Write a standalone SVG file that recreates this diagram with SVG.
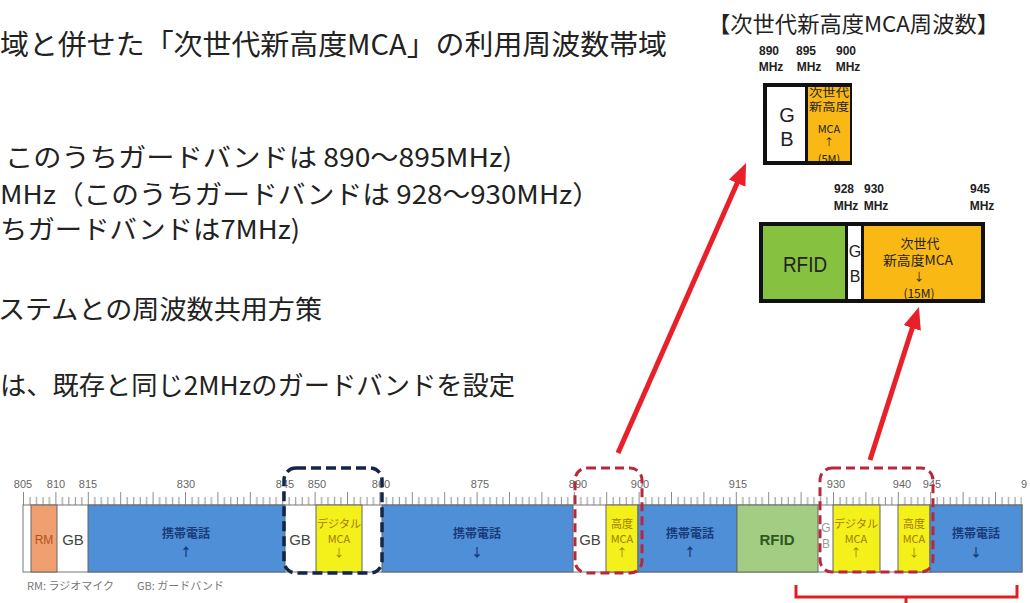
<svg xmlns="http://www.w3.org/2000/svg" width="1030" height="603" viewBox="0 0 1030 603">
<style>
.jp{font-family:"Noto Sans CJK JP","Noto Sans",sans-serif}
.body{font-size:26px;fill:#222}
.sm{font-family:"Liberation Sans","Noto Sans CJK JP",sans-serif}
.ruler{font-size:11px;fill:#666;text-anchor:middle}
.seg{stroke:#666;stroke-width:1}
.blue{fill:#4F8FD8}
.yel{fill:#F4F01A}
.wht{fill:#fff}
.bt{font-size:12px;fill:#1A3B78;text-anchor:middle;font-weight:bold}
.yt{font-size:11px;fill:#A07C00;text-anchor:middle}
.gb{font-size:15px;fill:#444;text-anchor:middle}
.fq{font-size:12px;font-weight:bold;fill:#222;text-anchor:middle}
.ot{font-size:11px;fill:#222;text-anchor:middle}
.red{fill:none;stroke:#B8283C;stroke-width:3;stroke-dasharray:9 5}
.arrow{fill:none;stroke:#E8202A;stroke-width:5}
</style>
<defs>
<pattern id="ticks" patternUnits="userSpaceOnUse" x="23" y="491" width="32.4" height="14">
<path d="M0.5,1V14M7,6V14M13.5,6V14M20,6V14M26.4,6V14" stroke="#8a8a8a" stroke-width="1" fill="none"/>
</pattern>
<marker id="ah" markerUnits="userSpaceOnUse" markerWidth="24" markerHeight="20" refX="10" refY="9" orient="auto">
<path d="M0,0L22,9L0,18Z" fill="#E8202A"/>
</marker>
<clipPath id="c1"><rect x="808" y="87" width="42" height="74"/></clipPath>
</defs>
<rect width="1030" height="603" fill="#fff"/>

<g id="text-block" class="jp body">
<text x="0" y="55" font-size="28" textLength="667" lengthAdjust="spacingAndGlyphs">域と併せた「次世代新高度MCA」の利用周波数帯域</text>
<text x="5" y="167" textLength="507" lengthAdjust="spacingAndGlyphs">このうちガードバンドは 890〜895MHz)</text>
<text x="0" y="204" textLength="600" lengthAdjust="spacingAndGlyphs">MHz（このうちガードバンドは 928〜930MHz）</text>
<text x="0" y="239" textLength="300" lengthAdjust="spacingAndGlyphs">ちガードバンドは7MHz)</text>
<text x="-2" y="319" textLength="324" lengthAdjust="spacingAndGlyphs">ステムとの周波数共用方策</text>
<text x="0" y="395" textLength="515" lengthAdjust="spacingAndGlyphs">は、既存と同じ2MHzのガードバンドを設定</text>
</g>

<g id="title-right">
<text class="jp" x="708" y="32" font-size="22" fill="#222" textLength="291" lengthAdjust="spacingAndGlyphs">【次世代新高度MCA周波数】</text>
</g>

<g id="box-upper">
<g class="sm fq">
<text x="769" y="55">890</text><text x="771" y="71">MHz</text>
<text x="806" y="55">895</text><text x="809" y="71">MHz</text>
<text x="846" y="55">900</text><text x="848" y="71">MHz</text>
</g>
<rect x="765" y="85" width="85" height="78" fill="#fff" stroke="#111" stroke-width="4"/>
<rect x="808" y="87" width="42" height="74" fill="#F9B814"/>
<line x1="806.5" y1="85" x2="806.5" y2="163" stroke="#111" stroke-width="3"/>
<text class="sm" x="787" y="122" font-size="20" fill="#222" text-anchor="middle">G</text>
<text class="sm" x="787" y="146" font-size="20" fill="#222" text-anchor="middle">B</text>
<g clip-path="url(#c1)" class="jp ot">
<text x="829" y="97" textLength="40" lengthAdjust="spacingAndGlyphs">次世代</text>
<text x="829" y="111" textLength="40" lengthAdjust="spacingAndGlyphs">新高度</text>
<text x="829" y="133">MCA</text>
<text x="829" y="146" font-size="10">↑</text>
<text x="829" y="163">(5M)</text>
</g>
</g>

<g id="box-lower">
<g class="sm fq">
<text x="844" y="193">928</text><text x="846" y="210">MHz</text>
<text x="874" y="193">930</text><text x="876" y="210">MHz</text>
<text x="980" y="193">945</text><text x="982" y="210">MHz</text>
</g>
<rect x="761" y="224" width="222" height="77" fill="#fff" stroke="#111" stroke-width="4"/>
<rect x="763" y="226" width="82" height="73" fill="#86C13F"/>
<rect x="863" y="226" width="118" height="73" fill="#F9B814"/>
<line x1="846.5" y1="224" x2="846.5" y2="301" stroke="#111" stroke-width="3"/>
<line x1="862.5" y1="224" x2="862.5" y2="301" stroke="#111" stroke-width="3"/>
<text class="sm" x="805" y="272" font-size="22" fill="#222" text-anchor="middle" textLength="44" lengthAdjust="spacingAndGlyphs">RFID</text>
<text class="sm" x="855" y="257" font-size="16" fill="#222" text-anchor="middle">G</text>
<text class="sm" x="855" y="282" font-size="16" fill="#222" text-anchor="middle">B</text>
<g class="jp" font-size="13" fill="#222" text-anchor="middle">
<text x="920" y="248">次世代</text>
<text x="918" y="265" textLength="70" lengthAdjust="spacingAndGlyphs">新高度MCA</text>
<text x="919" y="281" font-size="11">↓</text>
<text x="919" y="298" font-size="12">(15M)</text>
</g>
</g>

<g id="ruler">
<rect x="23" y="491" width="999" height="14" fill="url(#ticks)"/>
<g class="sm ruler">
<text x="23" y="488">805</text><text x="56" y="488">810</text><text x="88" y="488">815</text>
<text x="186" y="488">830</text><text x="285" y="488">845</text><text x="317" y="488">850</text>
<text x="381" y="488">860</text><text x="480" y="488">875</text><text x="578" y="488">890</text>
<text x="640" y="488">900</text><text x="738" y="488">915</text><text x="836" y="488">930</text>
<text x="902" y="488">940</text><text x="932" y="488">945</text><text x="1024" y="488">9</text>
</g>
</g>

<g id="band-bar">
<rect x="23" y="505" width="999" height="67" fill="#fff" stroke="#777" stroke-width="1"/>
<rect class="seg" x="31" y="505" width="26" height="67" fill="#F0A070" stroke="#8a5a3a"/>
<rect class="seg blue" x="88" y="505" width="197" height="67"/>
<rect class="seg yel" x="316" y="505" width="46" height="67"/>
<rect class="seg blue" x="382" y="505" width="191" height="67"/>
<rect class="seg yel" x="606" y="505" width="32" height="67"/>
<rect class="seg blue" x="638" y="505" width="99" height="67"/>
<rect class="seg" x="737" y="505" width="81" height="67" fill="#A3CD82"/>
<rect class="seg yel" x="833" y="505" width="47" height="67"/>
<rect class="seg yel" x="898" y="505" width="32" height="67"/>
<rect class="seg blue" x="930" y="505" width="92" height="67"/>
<g class="sm">
<text x="44" y="544" font-size="12" fill="#B5501E" text-anchor="middle">RM</text>
<text class="gb" x="73" y="545">GB</text>
<text class="gb" x="300" y="545">GB</text>
<text class="gb" x="590" y="545">GB</text>
<text x="826" y="532" font-size="12" fill="#999" text-anchor="middle">G</text>
<text x="826" y="548" font-size="12" fill="#999" text-anchor="middle">B</text>
<text x="777" y="545" font-size="15" font-weight="bold" fill="#2E5A1E" text-anchor="middle">RFID</text>
</g>
<g class="jp bt">
<text x="186" y="538">携帯電話</text><text x="186" y="557">↑</text>
<text x="477" y="538">携帯電話</text><text x="477" y="557">↓</text>
<text x="690" y="538">携帯電話</text><text x="690" y="557">↑</text>
<text x="976" y="538">携帯電話</text><text x="976" y="557">↓</text>
</g>
<g class="jp yt">
<text x="339" y="528" textLength="44" lengthAdjust="spacingAndGlyphs">デジタル</text><text x="339" y="543">MCA</text><text x="339" y="557">↓</text>
<text x="622" y="528">高度</text><text x="622" y="543">MCA</text><text x="622" y="557">↑</text>
<text x="856" y="528" textLength="44" lengthAdjust="spacingAndGlyphs">デジタル</text><text x="856" y="543">MCA</text><text x="856" y="557">↑</text>
<text x="914" y="528">高度</text><text x="914" y="543">MCA</text><text x="914" y="557">↓</text>
</g>
</g>

<g id="legend" class="jp" font-size="11" fill="#777">
<text x="27" y="590">RM: ラジオマイク</text>
<text x="137" y="590">GB: ガードバンド</text>
</g>

<g id="highlights">
<rect x="284" y="468" width="98" height="105" rx="12" fill="none" stroke="#14254A" stroke-width="3.5" stroke-dasharray="10 5"/>
<rect class="red" x="575" y="468" width="67" height="105" rx="12"/>
<rect class="red" x="820" y="468" width="113" height="104" rx="12"/>
</g>

<g id="connectors">
<line class="arrow" x1="618" y1="453" x2="741.2" y2="174" marker-end="url(#ah)"/>
<line class="arrow" x1="870" y1="460" x2="915.3" y2="318.4" marker-end="url(#ah)"/>
<path d="M796,585V597H1017V585M906,597V603" fill="none" stroke="#E02020" stroke-width="3"/>
</g>
</svg>
